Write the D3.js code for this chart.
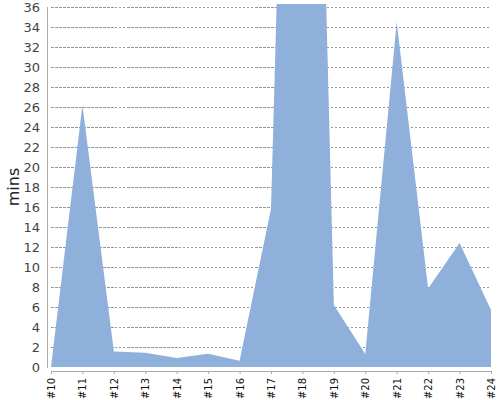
<!DOCTYPE html>
<html>
<head>
<meta charset="utf-8">
<script src="https://cdn.jsdelivr.net/npm/d3@7"></script>
<style>
  body { margin: 0; background: #fff; }
  svg { display: block; font-family: "DejaVu Sans", Verdana, sans-serif; }
</style>
</head>
<body>
<svg id="chart" width="500" height="400"></svg>
<script>
// builds, left to right
const builds = ['#10', '#11', '#12', '#13', '#14', '#15', '#16', '#17',
                '#18', '#19', '#20', '#21', '#22', '#23', '#24'];
// duration in minutes (#18 runs far above the visible range)
const mins = [0, 26.2, 1.55, 1.43, 0.9, 1.33, 0.63, 15.8,
              130, 6.2, 1.3, 34.5, 7.85, 12.4, 5.7];
const yTicks = d3.range(0, 37, 2);

const svg = d3.select('#chart');
const margin = { top: 7, right: 9, bottom: 33, left: 51 };
const w = 500 - margin.left - margin.right;
const h = 400 - margin.top - margin.bottom;

const x = d3.scalePoint().domain(builds).range([0, w]);
const y = d3.scaleLinear().domain([0, 36]).range([h, 0]);

const chart = svg.append('g')
    .attr('transform', `translate(${margin.left},${margin.top})`);

// grid
chart.append('g')
    .selectAll('line')
    .data(yTicks.filter(d => d > 0))
    .enter().append('line')
    .attr('x1', 0).attr('x2', w)
    .attr('y1', d => y(d)).attr('y2', d => y(d))
    .attr('stroke', '#999')
    .attr('stroke-width', 1)
    .attr('stroke-dasharray', '2.5,1.5')
    .attr('shape-rendering', 'crispEdges');

svg.append('clipPath').attr('id', 'plotclip')
    .append('rect')
    .attr('x', 0).attr('y', -3)
    .attr('width', w).attr('height', h + 3);

const area = d3.area()
    .x((d, i) => x(builds[i]))
    .y0(y(0))
    .y1(d => y(d));

chart.append('path')
    .datum(mins)
    .attr('clip-path', 'url(#plotclip)')
    .attr('fill', '#8eb0da')
    .attr('d', area);

// y axis
const yAxis = chart.append('g')
    .attr('transform', 'translate(-4,0)')
    .call(d3.axisLeft(y).tickValues(yTicks).tickSize(0).tickPadding(7))
    .style('font-family', '"DejaVu Sans", sans-serif');
yAxis.select('.domain').attr('stroke', '#aaa').attr('d', `M0.5,0V${h + 1}`);
yAxis.selectAll('text')
    .attr('fill', '#444')
    .style('font-size', '13px');

// x axis
const xAxis = chart.append('g')
    .attr('transform', `translate(0,${h + 4})`)
    .call(d3.axisBottom(x).tickSize(3).tickSizeOuter(0))
    .style('font-family', '"DejaVu Sans", sans-serif');
xAxis.select('.domain').attr('stroke', '#aaa');
xAxis.selectAll('line').attr('stroke', '#aaa');
xAxis.selectAll('text')
    .attr('fill', '#111')
    .style('font-size', '10px')
    .attr('text-anchor', 'end')
    .attr('transform', 'rotate(-90)')
    .attr('x', -7)
    .attr('y', 0)
    .attr('dy', '0.35em');

svg.append('text')
    .attr('transform', `translate(19,${margin.top + h / 2}) rotate(-90)`)
    .attr('text-anchor', 'middle')
    .attr('fill', '#222')
    .style('font-size', '16px')
    .text('mins');
</script>
</body>
</html>
